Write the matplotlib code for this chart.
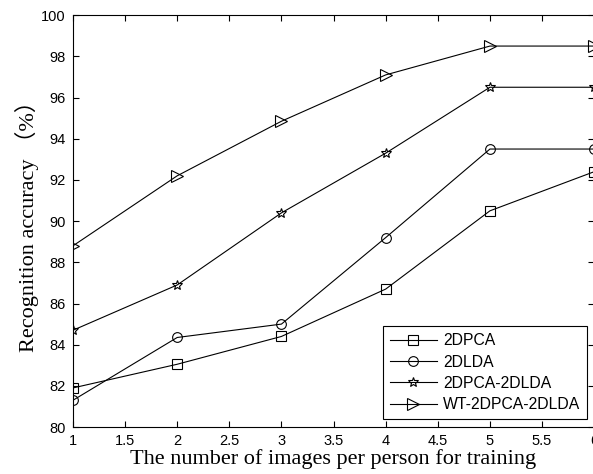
import matplotlib
matplotlib.use("Agg")
import matplotlib.pyplot as plt

# training images per person
x = [1, 2, 3, 4, 5, 6]

acc_2dpca = [81.9, 83.05, 84.4, 86.7, 90.5, 92.4]
acc_2dlda = [81.3, 84.35, 85.0, 89.2, 93.5, 93.5]
acc_2dpca_2dlda = [84.7, 86.9, 90.4, 93.3, 96.5, 96.5]
acc_wt = [88.8, 92.2, 94.85, 97.1, 98.5, 98.5]

labels = ["2DPCA", "2DLDA", "2DPCA-2DLDA", "WT-2DPCA-2DLDA"]
markers = ["s", "o", "*", ">"]
sizes = [7.5, 7, 7.5, 8]

xticks = [1, 1.5, 2, 2.5, 3, 3.5, 4, 4.5, 5, 5.5, 6]
yticks = [80, 82, 84, 86, 88, 90, 92, 94, 96, 98, 100]

plt.rcParams["font.family"] = ["Liberation Sans", "DejaVu Sans"]

fig = plt.figure(figsize=(5.93, 4.74), dpi=100)
ax = fig.add_axes([0.123, 0.099, 0.879, 0.869])

series = [acc_2dpca, acc_2dlda, acc_2dpca_2dlda, acc_wt]
for ys, lab, m, ms in zip(series, labels, markers, sizes):
    ax.plot(x, ys, color="black", linewidth=0.8, marker=m, markersize=ms,
            markerfacecolor="none", markeredgecolor="black", markeredgewidth=0.8,
            label=lab)

ax.set_xlim(1, 6)
ax.set_ylim(80, 100)
ax.set_xticks(xticks)
ax.set_xticklabels([f"{t:g}" for t in xticks])
ax.set_yticks(yticks)
ax.tick_params(direction="in", top=True, right=True, length=4, width=0.8,
               labelsize=10.5, pad=5)
for s in ax.spines.values():
    s.set_linewidth(0.8)

serif = ["Liberation Serif", "Noto Sans CJK SC"]
ax.set_xlabel("The number of images per person for training",
              family=serif, fontsize=16, labelpad=1)
ax.set_ylabel("Recognition accuracy （%）",
              family=serif, fontsize=16, labelpad=2)

leg = ax.legend(loc="lower right", bbox_to_anchor=(0.987, 0.019), borderaxespad=0,
                fontsize=11.3, fancybox=False, edgecolor="black", framealpha=1,
                handlelength=3.0, borderpad=0.45, labelspacing=0.4, handletextpad=0.4)
leg.get_frame().set_linewidth(0.8)

fig.savefig("out.png", dpi=100)
